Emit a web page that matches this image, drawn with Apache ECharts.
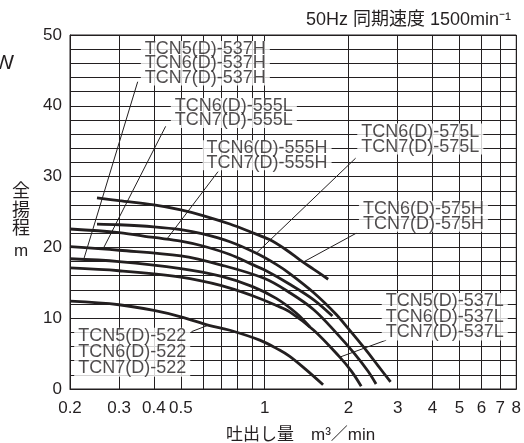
<!DOCTYPE html>
<html><head><meta charset="utf-8">
<script src="https://cdn.jsdelivr.net/npm/echarts@6/dist/echarts.min.js"></script>
<style>html,body{margin:0;padding:0;background:#fff}#c{width:524px;height:443px}</style>
</head><body><div id="c"></div>
<script>
// ---- axis ticks ----
const xGridValues = [0.2,0.3,0.4,0.5,0.6,0.7,0.8,0.9,1,2,3,4,5,6,7,8];
const xLabelValues = [0.2,0.3,0.4,0.5,1,2,3,4,5,6,7,8];
const yLabelValues = [0,10,20,30,40,50];

// ---- curves (flow m3/min, head m) ----
const q575H = [0.25,0.3,0.4,0.5,0.6,0.75,0.9,1.04,1.2,1.34,1.5,1.69];
const h575H = [27.0,26.6,26.0,25.3,24.5,23.3,22.1,21.1,19.6,18.2,16.9,15.5];
const q575L = [0.25,0.3,0.4,0.5,0.6,0.75,0.93,1.1,1.23,1.5,1.8,2.0,2.3,2.55,2.83];
const h575L = [23.3,23.2,22.9,22.5,21.9,20.8,19.2,17.6,16.3,13.6,10.6,8.5,5.6,3.3,1.0];
const q555H = [0.2,0.3,0.4,0.5,0.6,0.75,0.9,1.0,1.23,1.5,1.75];
const h555H = [22.6,22.1,21.4,20.9,20.2,19.0,17.6,16.8,14.8,12.6,10.3];
const q555L = [0.2,0.3,0.5,0.7,1.0,1.23,1.5,1.8,2.1,2.35,2.51];
const h555L = [20.1,19.6,18.8,17.5,15.6,13.6,11.2,8.0,5.0,2.5,0.7];
const q537H = [0.2,0.3,0.5,0.7,0.9,1.1,1.3,1.45];
const h537H = [18.4,18.0,17.0,15.9,14.5,12.8,10.7,8.8];
const q537L = [0.2,0.3,0.5,0.7,0.9,1.1,1.23,1.5,1.86,2.05,2.22];
const h537L = [17.1,16.7,15.8,14.6,13.2,11.8,10.9,8.3,4.5,2.5,0.4];
const q522 = [0.2,0.3,0.4,0.5,0.63,0.75,0.96,1.13,1.23,1.4,1.62];
const h522 = [12.4,11.9,11.1,10.2,9.0,8.3,6.9,5.5,4.6,2.8,0.6];

// ---- label texts ----
const txt537H = ['TCN5(D)-537H','TCN6(D)-537H','TCN7(D)-537H'];
const txt555L = ['TCN6(D)-555L','TCN7(D)-555L'];
const txt555H = ['TCN6(D)-555H','TCN7(D)-555H'];
const txt575L = ['TCN6(D)-575L','TCN7(D)-575L'];
const txt575H = ['TCN6(D)-575H','TCN7(D)-575H'];
const txt537L = ['TCN5(D)-537L','TCN6(D)-537L','TCN7(D)-537L'];
const txt522 = ['TCN5(D)-522','TCN6(D)-522','TCN7(D)-522'];

const INK = '#231f20';
const FONT = '"Liberation Sans", "Noto Sans CJK JP", sans-serif';

function zip(q, h){ return q.map((v,i)=>[v,h[i]]); }

const curves = [
  [q575H,h575H],[q575L,h575L],[q555H,h555H],[q555L,h555L],
  [q537H,h537H],[q537L,h537L],[q522,h522]
];

// annotation layout: anchor (left-middle of label block, data coords), leader line [from, to], line height px
const notes = [
  {t:txt537H, at:[0.359,46],  lead:[[0.350,43.4],[0.224,18.3]], lh:14.5},
  {t:txt555L, at:[0.460,39],  lead:[[0.441,37.1],[0.263,19.8]], lh:14.5},
  {t:txt555H, at:[0.598,33],  lead:[[0.68,30.7],[0.444,21.1]], lh:14.5},
  {t:txt575L, at:[2.149,35.3],lead:[[2.12,32.6],[0.934,19.2]], lh:15},
  {t:txt575H, at:[2.178,24.4],lead:[[2.13,22.0],[1.371,17.9]], lh:15},
  {t:txt537L, at:[2.63,10.2], lead:[[2.73,6.9],[1.86,4.5]], lh:15.5},
  {t:txt522,  at:[0.207,5.2], lead:[[0.546,8.1],[0.626,9.0]], lh:16}
];

const series = [];
curves.forEach(c => series.push({
  type:'line', data: zip(c[0], c[1]), smooth:0.35, symbol:'none', z:4,
  lineStyle:{color:INK, width:2.8}, silent:true
}));
notes.forEach(n => series.push({
  type:'line', data: n.lead, symbol:'none', z:3, silent:true,
  lineStyle:{color:INK, width:1}
}));
notes.forEach(n => series.push({
  type:'scatter', data:[n.at], symbolSize:0.1, itemStyle:{color:'rgba(0,0,0,0)'}, z:6, silent:true,
  label:{show:true, position:'right', distance:0, formatter:n.t.join('\n'),
    fontSize:18, lineHeight:n.lh, color:INK, fontFamily:FONT,
    backgroundColor:'#fff', padding:[1,4,0,4], align:'left', verticalAlign:'middle'}
}));

const chart = echarts.init(document.getElementById('c'), null, {renderer:'canvas'});
chart.setOption({
  animation:false,
  backgroundColor:'#fff',
  grid:{left:70, top:35, width:447, height:354, show:true, borderColor:INK, borderWidth:1},
  xAxis:{
    type:'log', logBase:10, min:0.2, max:8,
    axisLine:{show:true, lineStyle:{color:INK, width:1}},
    axisTick:{show:false, customValues:xGridValues},
    splitLine:{show:true, lineStyle:{color:INK, width:1}},
    minorSplitLine:{show:false},
    axisLabel:{customValues:xLabelValues, fontSize:17, color:INK, fontFamily:FONT, margin:11,
      formatter: v => String(+(+v).toPrecision(3))}
  },
  yAxis:{
    type:'value', min:0, max:50, interval:2,
    axisLine:{show:true, lineStyle:{color:INK, width:1}},
    axisTick:{show:false},
    splitLine:{show:true, lineStyle:{color:INK, width:1}},
    axisLabel:{fontSize:17, color:INK, fontFamily:FONT, margin:8,
      formatter: v => yLabelValues.includes(v) ? String(v) : ''}
  },
  graphic:[
    {type:'text', x:511, y:20, style:{text:'50Hz 同期速度 1500min⁻¹', fontSize:18, fontFamily:FONT, fill:INK, align:'right', verticalAlign:'middle'}},
    {type:'text', x:14, y:63, style:{text:'kW', fontSize:21, fontFamily:FONT, fill:INK, align:'right', verticalAlign:'middle'}},
    {type:'text', x:21, y:183, style:{text:'全\n揚\n程', fontSize:18, lineHeight:18.5, fontFamily:FONT, fill:INK, align:'center', verticalAlign:'top'}},
    {type:'text', x:21, y:251, style:{text:'m', fontSize:17, fontFamily:FONT, fill:INK, align:'center', verticalAlign:'middle'}},
    {type:'text', x:226, y:435, style:{text:'吐出し量　m³／min', fontSize:17, fontFamily:FONT, fill:INK, align:'left', verticalAlign:'middle'}}
  ],
  series: series
});
</script></body></html>
